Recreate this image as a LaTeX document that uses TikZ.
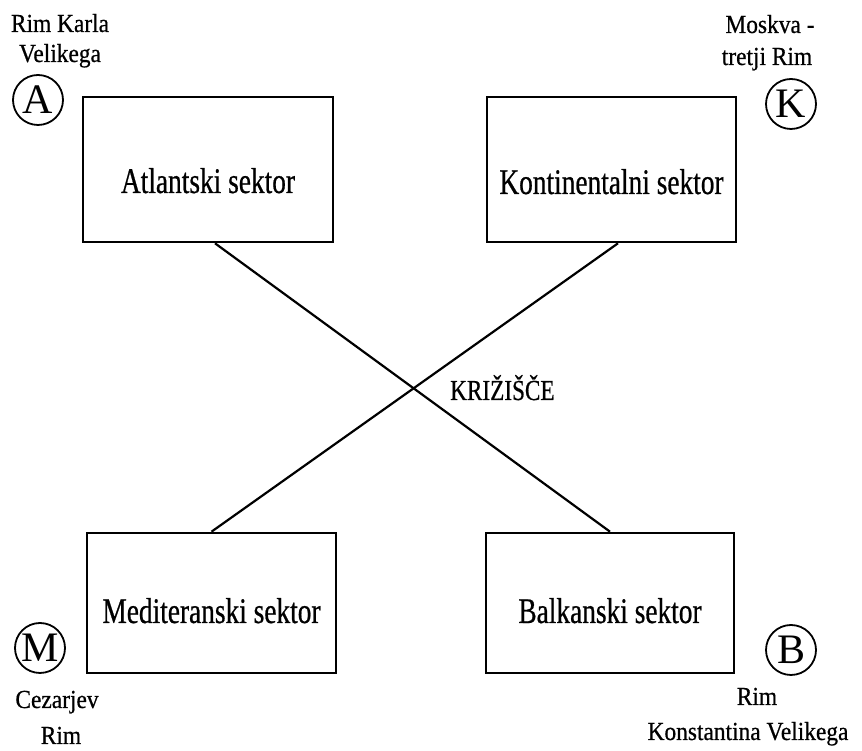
\documentclass[tikz,border=0pt]{standalone}
\usepackage{fontspec}
\setmainfont{Liberation Serif}
\newfontfamily\boxfont[FakeStretch=0.76,FakeBold=0.6]{Liberation Serif}
\newfontfamily\labfont[FakeStretch=0.9,FakeBold=0.6]{Liberation Serif}
\newfontfamily\crossfont[FakeStretch=0.8,FakeBold=0.6]{Liberation Serif}
\begin{document}
\begin{tikzpicture}[x=1pt,y=1pt,
  sector/.style={draw, line width=2.6pt, minimum width=250pt, inner sep=0pt},
  sectortext/.style={anchor=base, inner sep=0pt, font=\boxfont\fontsize{36}{40}\selectfont},
  marker/.style={draw, circle, line width=1.8pt, minimum size=50pt, inner sep=0pt, font=\fontsize{42}{44}\selectfont},
  lab/.style={anchor=base, inner sep=0pt, font=\labfont\fontsize{26}{28}\selectfont},
  link/.style={line width=2.2pt}]
\useasboundingbox (0,0) rectangle (862,751);
% boxes (y = 751 - image y)
\node[sector, minimum height=145pt] (A) at (208,581.5) {};
\node[sector, minimum height=145pt, minimum width=249pt] (K) at (611.5,581.5) {};
\node[sector, minimum height=140pt, minimum width=249pt] (M) at (211.5,148) {};
\node[sector, minimum height=140pt, minimum width=248pt] (B) at (610,148) {};
\node[sectortext] (At) at ([yshift=-23.5pt]A.center) {Atlantski sektor};
\node[sectortext] (Kt) at ([yshift=-24.5pt]K.center) {Kontinentalni sektor};
\node[sectortext] (Mt) at ([yshift=-20pt]M.center) {Mediteranski sektor};
\node[sectortext] (Bt) at ([yshift=-20pt]B.center) {Balkanski sektor};
% connectors
\draw[link] ([xshift=7pt]A.south) -- (B.north);
\draw[link] ([xshift=6.5pt]K.south) -- (M.north);
\node[anchor=base west, inner sep=0pt, font=\crossfont\fontsize{29}{30}\selectfont] (X) at (450,351) {KRIŽIŠČE};
% markers
\node[marker] (cA) at (38,651) {A};
\node[marker] (cK) at (791,647) {K};
\node[marker] (cM) at (40,103) {M};
\node[marker] (cB) at (791,101) {B};
% labels
\node[lab] (a1) at (60,719) {Rim Karla};
\node[lab] (a2) at (60,689) {Velikega};
\node[lab] (k1) at (770,718) {Moskva -};
\node[lab] (k2) at (767,686) {tretji Rim};
\node[lab] (m1) at (57,43) {Cezarjev};
\node[lab] (m2) at (61,7) {Rim};
\node[lab] (b1) at (757,46) {Rim};
\node[lab] (b2) at (748,11) {Konstantina Velikega};
\end{tikzpicture}
\end{document}
